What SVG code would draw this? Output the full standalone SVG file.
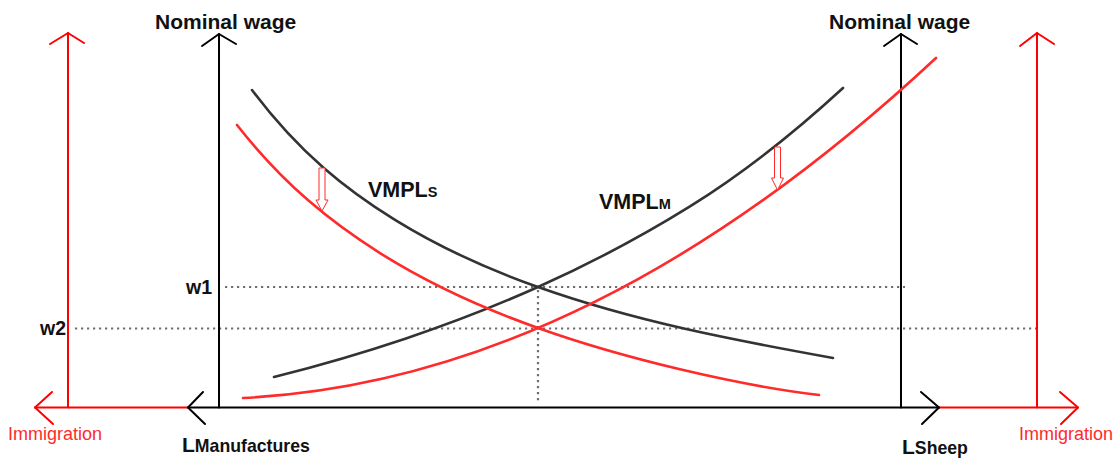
<svg xmlns="http://www.w3.org/2000/svg" width="1116" height="460" viewBox="0 0 1116 460">
<style>
.ax{fill:none;stroke:#000;stroke-width:2;stroke-linecap:round;stroke-linejoin:round}
.axr{fill:none;stroke:#ff0000;stroke-width:2;stroke-linecap:round;stroke-linejoin:round}
.cb{fill:none;stroke:#333;stroke-width:2.6;stroke-linecap:round}
.cr{fill:none;stroke:#ff2a2a;stroke-width:2.6;stroke-linecap:round}
.dot{fill:none;stroke:#6e6e6e;stroke-width:2.2;stroke-dasharray:2.2 3.8}
.sh{fill:#fff;stroke:#ff2a2a;stroke-width:1}
.t{font-family:"Liberation Sans",Arial,sans-serif;font-weight:bold;fill:#111}
.ti{font-family:"Liberation Sans",Arial,sans-serif;fill:#ff2a2a;font-size:18px}
</style>
<rect width="1116" height="460" fill="#fff"/>
<g id="guides">
<line class="dot" x1="225" y1="287" x2="905" y2="287"/>
<line class="dot" x1="75" y1="328.5" x2="1036" y2="328.5"/>
<line class="dot" x1="538" y1="290" x2="538" y2="404"/>
</g>
<g id="axis-red-left">
<line class="axr" x1="68" y1="33" x2="68" y2="407"/>
<polyline class="axr" points="50,44 68,33 84,43"/>
<line class="axr" x1="35" y1="407.5" x2="188" y2="407.5"/>
<polyline class="axr" points="52,392 35,407.5 53,424"/>
</g>
<g id="axis-red-right">
<line class="axr" x1="1037" y1="33" x2="1037" y2="407"/>
<polyline class="axr" points="1020,46 1037,33 1054,44"/>
<line class="axr" x1="939" y1="407.5" x2="1078" y2="407.5"/>
<polyline class="axr" points="1060,392 1078,407.5 1061,424"/>
</g>
<g id="axis-black">
<line class="ax" x1="219" y1="34" x2="219" y2="407.5"/>
<polyline class="ax" points="202,46 219,34 236,44"/>
<line class="ax" x1="901" y1="34" x2="901" y2="407.5"/>
<polyline class="ax" points="884,46 901,34 917,44"/>
<line class="ax" x1="188" y1="407.5" x2="939" y2="407.5"/>
<polyline class="ax" points="203,392 188,407.5 205,424"/>
<polyline class="ax" points="921,392 939,407.5 922,424"/>
</g>
<g id="vmpls-black">
<path class="cb" d="M252,90 C299.67,153.6 347.33,190.4 395,219.9 C442.67,249.4 490.33,270.1 538,287 C587,304.4 636,317.6 685,328.8 C734.33,340 783.67,349.1 833,358"/>
</g>
<g id="vmplm-black">
<path class="cb" d="M274,377 C318,365.9 362,353.2 406,338.4 C450,323.6 494,306.7 538,287 C588.67,264.3 639.33,237.9 690,206.4 C741,174.7 792,134.9 843,88"/>
</g>
<g id="vmpls-red">
<path class="cr" d="M237,125 C284.67,185.8 332.33,223.1 380,253.1 C432.67,286.2 485.33,309.2 538,328 C585.33,344.9 632.67,358 680,369.3 C726.33,380.3 772.67,389.5 819,395"/>
</g>
<g id="vmplm-red">
<path class="cr" d="M243,398 Q589.5,380.9 936,58"/>
</g>
<g id="connectors">
<path class="sh" d="M319,168 H325 V200 H328 L322,211 L316,200 H319 Z"/>
<path class="sh" d="M774.5,147 H780.5 V178 H783.5 L777.5,190 L771.5,178 H774.5 Z"/>
</g>
<g id="labels">
<text class="t" x="155" y="29" font-size="21">Nominal wage</text>
<text class="t" x="829" y="29" font-size="21">Nominal wage</text>
<text class="t" x="368" y="197" font-size="21.5">VMPL<tspan font-size="14.5">S</tspan></text>
<text class="t" x="599" y="209" font-size="21.5">VMPL<tspan font-size="14.5">M</tspan></text>
<text class="t" x="186" y="294" font-size="19.5">w1</text>
<text class="t" x="40" y="335" font-size="19.5">w2</text>
<text class="t" x="182" y="452" font-size="21">L<tspan font-size="17.7">Manufactures</tspan></text>
<text class="t" x="902" y="454" font-size="21">L<tspan font-size="17.7">Sheep</tspan></text>
<text class="ti" x="8" y="440">Immigration</text>
<text class="ti" x="1019" y="440">Immigration</text>
</g>
</svg>
